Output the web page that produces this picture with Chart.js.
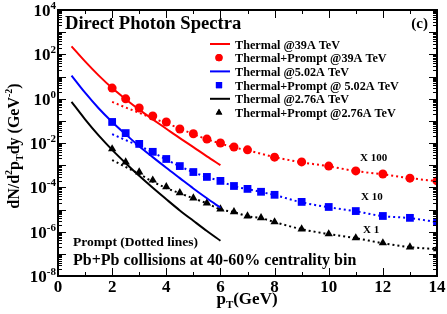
<!DOCTYPE html>
<html>
<head>
<meta charset="utf-8">
<script src="https://cdn.jsdelivr.net/npm/chart.js@4.4.1/dist/chart.umd.min.js"></script>
<style>
  html, body { margin: 0; padding: 0; background: #fff; }
  #wrap { width: 447px; height: 314px; position: relative; }
</style>
</head>
<body>
<div id="wrap"><canvas id="photonChart"></canvas></div>
<script>
// thermal curves (solid lines), pT in GeV
const thermalPt = [0.5, 1, 1.5, 2, 2.5, 3, 3.5, 4, 4.5, 5, 5.5, 6];
const thermal39 = [229, 48, 11.2, 3.0, 0.95, 0.32, 0.117, 0.044, 0.0166, 0.0065, 0.0025, 0.001];
const thermal502 = [11, 1.86, 0.37, 0.089, 0.0245, 0.0072, 0.0023, 7.6e-4, 2.6e-4, 8.9e-5, 3.2e-5, 1.2e-5];
const thermal276 = [0.72, 0.117, 0.022, 0.0049, 1.23e-3, 3.3e-4, 9.5e-5, 2.9e-5, 9.1e-6, 3.1e-6, 1.07e-6, 3.9e-7];

// thermal + prompt (markers)
const pt39 = [2, 2.5, 3, 3.5, 4, 4.5, 5, 5.5, 6, 6.5, 7, 8, 9, 10, 11, 12, 13, 14];
const total39 = [3.0, 0.98, 0.38, 0.166, 0.089, 0.043, 0.026, 0.015, 0.010, 0.0066, 0.0049, 0.0023, 0.0014, 9.1e-4, 5.5e-4, 4.0e-4, 2.6e-4, 1.95e-4];
const pt502 = [2, 2.5, 3, 3.5, 4, 4.5, 5, 5.5, 6, 6.5, 7, 7.5, 8, 9, 10, 11, 12, 13, 14];
const total502 = [0.089, 0.028, 0.0091, 0.004, 0.0019, 9.1e-4, 4.9e-4, 2.95e-4, 1.95e-4, 1.15e-4, 8.5e-5, 6.3e-5, 4.6e-5, 2.2e-5, 1.3e-5, 8.5e-6, 5.1e-6, 4.2e-6, 2.75e-6];
const pt276 = pt502;
const total276 = [5.4e-3, 1.38e-3, 4.9e-4, 2.1e-4, 1.05e-4, 5.6e-5, 3.3e-5, 1.95e-5, 1.05e-5, 7.8e-6, 5.1e-6, 4.2e-6, 2.75e-6, 1.3e-6, 7.9e-7, 5.2e-7, 3.1e-7, 2.0e-7, 1.66e-7];

// prompt only (dotted lines)
const prompt39 = [0.72, 0.40, 0.23, 0.13, 0.079, 0.045, 0.025, 0.0148, 0.0095, 0.0063, 0.0047, 0.0023, 0.00135, 8.9e-4, 5.4e-4, 3.9e-4, 2.6e-4, 1.9e-4];
const prompt502 = [0.025, 0.0135, 0.0074, 0.0038, 0.0018, 8.9e-4, 4.8e-4, 2.9e-4, 1.9e-4, 1.12e-4, 8.3e-5, 6.2e-5, 4.5e-5, 2.1e-5, 1.26e-5, 8.3e-6, 5.0e-6, 4.1e-6, 2.7e-6];
const prompt276 = [1.7e-3, 8.3e-4, 4.0e-4, 1.8e-4, 9.3e-5, 5.4e-5, 3.2e-5, 1.9e-5, 1.02e-5, 7.6e-6, 5.0e-6, 4.1e-6, 2.7e-6, 1.29e-6, 7.8e-7, 5.1e-7, 3.0e-7, 2.0e-7, 1.62e-7];

const xTicks = [0, 2, 4, 6, 8, 10, 12, 14];
const yExponents = [4, 2, 0, -2, -4, -6, -8];
const scaleLabels = ['X 100', 'X 10', 'X 1'];

const RED = 'rgb(255,0,0)';
const BLUE = 'rgb(0,0,255)';
const BLACK = 'rgb(0,0,0)';
const SERIF = '"Liberation Serif", "Times New Roman", serif';

const pairs = (xs, ys) => xs.map((x, i) => ({x: x, y: ys[i]}));

const lineSet = (label, xs, ys, color) => ({
    label: label, data: pairs(xs, ys), borderColor: color, backgroundColor: color,
    borderWidth: 2, pointRadius: 0, showLine: true, cubicInterpolationMode: 'monotone', inLegend: true
});
const dotSet = (label, xs, ys, color, style, r) => ({
    label: label, data: pairs(xs, ys), borderColor: color, backgroundColor: color,
    pointStyle: style, pointRadius: r, pointHoverRadius: r, borderWidth: 0, showLine: false, inLegend: true
});
const promptSet = (xs, ys, color) => ({
    label: 'Prompt', data: pairs(xs, ys), borderColor: color, borderWidth: 2,
    borderDash: [2, 3], pointRadius: 0, showLine: true, cubicInterpolationMode: 'monotone', inLegend: false
});

// draws text with super/subscript pieces: [text, size, dy]
const richText = (ctx, parts, x, y, align) => {
    let total = 0;
    parts.forEach(p => { ctx.font = 'bold ' + p[1] + 'px ' + SERIF; total += ctx.measureText(p[0]).width; });
    let cx = align === 'center' ? x - total / 2 : (align === 'right' ? x - total : x);
    ctx.textAlign = 'left';
    ctx.textBaseline = 'alphabetic';
    parts.forEach(p => {
        ctx.font = 'bold ' + p[1] + 'px ' + SERIF;
        ctx.fillText(p[0], cx, y + p[2]);
        cx += ctx.measureText(p[0]).width;
    });
};

const decorPlugin = {
    id: 'decor',
    afterDraw: (chart) => {
        const ctx = chart.ctx;
        const a = chart.chartArea;
        const xs = chart.scales.x, ys = chart.scales.y;
        ctx.save();
        ctx.fillStyle = '#000';
        ctx.strokeStyle = '#000';

        // tick marks, pointing inwards on all four sides
        ctx.lineWidth = 1;
        ctx.beginPath();
        for (let e = -8; e <= 4; e++) {
            for (let k = 1; k <= 9; k++) {
                const v = k * Math.pow(10, e);
                if (v > 1e4) break;
                const py = Math.round(ys.getPixelForValue(v)) + 0.5;
                const len = k === 1 ? 8 : 4;
                ctx.moveTo(a.left, py); ctx.lineTo(a.left + len, py);
                ctx.moveTo(a.right, py); ctx.lineTo(a.right - len, py);
            }
        }
        for (let t = 0; t <= 14; t++) {
            const px = Math.round(xs.getPixelForValue(t)) + 0.5;
            const len = t % 2 === 0 ? 8 : 4;
            ctx.moveTo(px, a.bottom); ctx.lineTo(px, a.bottom - len);
            ctx.moveTo(px, a.top); ctx.lineTo(px, a.top + len);
        }
        ctx.stroke();

        ctx.lineWidth = 2;
        ctx.strokeRect(a.left, a.top, a.right - a.left, a.bottom - a.top);

        // y tick labels 10^n
        yExponents.forEach(e => {
            const py = ys.getPixelForValue(Math.pow(10, e));
            const parts = [['10', 17, 0], [String(e), 11, -7]];
            richText(ctx, parts, 56, py + 6, 'right');
        });

        // axis titles
        richText(ctx, [['p', 17, 0], ['T', 11, 4], ['(GeV)', 17, 0]], 247, 304, 'center');
        ctx.save();
        ctx.translate(19, 146);
        ctx.rotate(-Math.PI / 2);
        richText(ctx, [['dN/d', 16, 0], ['2', 10, -7], ['p', 16, 0], ['T', 10, 4], ['dy (GeV', 16, 0], ['-2', 10, -7], [')', 16, 0]], 0, 0, 'center');
        ctx.restore();

        // title and panel tag
        richText(ctx, [['Direct Photon Spectra', 18.6, 0]], 65, 29, 'left');
        richText(ctx, [['(c)', 15, 0]], 428, 28, 'right');

        // legend
        const items = chart.data.datasets.filter(d => d.inLegend);
        items.forEach((d, i) => {
            const cy = 44 + i * 13.7;
            ctx.fillStyle = d.borderColor;
            ctx.strokeStyle = d.borderColor;
            if (d.showLine) {
                ctx.lineWidth = 2;
                ctx.beginPath(); ctx.moveTo(210, cy); ctx.lineTo(230, cy); ctx.stroke();
            } else {
                Chart.helpers.drawPoint(ctx, {pointStyle: d.pointStyle, radius: d.pointRadius * 0.8, borderWidth: 0}, 219, cy);
                ctx.fill();
            }
            ctx.fillStyle = '#000';
            richText(ctx, [[d.label, 12.2, 0]], 235, cy + 4.5, 'left');
        });

        // scale factors and notes
        ctx.fillStyle = '#000';
        richText(ctx, [[scaleLabels[0], 11, 0]], 360, 161, 'left');
        richText(ctx, [[scaleLabels[1], 11, 0]], 361, 200, 'left');
        richText(ctx, [[scaleLabels[2], 11, 0]], 363, 233, 'left');
        richText(ctx, [['Prompt (Dotted lines)', 13.5, 0]], 73, 246, 'left');
        richText(ctx, [['Pb+Pb collisions at 40-60% centrality bin', 16, 0]], 73, 265, 'left');
        ctx.restore();
    }
};

const drawChart = () => {
    const ctx = document.getElementById('photonChart').getContext('2d');
    new Chart(ctx, {
        type: 'scatter',
        data: {
            datasets: [
                promptSet(pt39, prompt39, RED),
                promptSet(pt502, prompt502, BLUE),
                promptSet(pt276, prompt276, BLACK),
                lineSet('Thermal @39A TeV', thermalPt, thermal39, RED),
                dotSet('Thermal+Prompt @39A TeV', pt39, total39, RED, 'circle', 4.5),
                lineSet('Thermal @5.02A TeV', thermalPt, thermal502, BLUE),
                dotSet('Thermal+Prompt @ 5.02A TeV', pt502, total502, BLUE, 'rect', 5.5),
                lineSet('Thermal @2.76A TeV', thermalPt, thermal276, BLACK),
                dotSet('Thermal+Prompt @2.76A TeV', pt276, total276, BLACK, 'triangle', 4.8)
            ]
        },
        options: {
            responsive: true,
            maintainAspectRatio: false,
            animation: false,
            layout: { padding: { top: 10, right: 10, left: 0, bottom: 0 } },
            plugins: { legend: { display: false }, tooltip: { enabled: false } },
            scales: {
                x: {
                    type: 'linear', min: 0, max: 14,
                    afterBuildTicks: (s) => { s.ticks = xTicks.map(v => ({value: v})); },
                    ticks: { autoSkip: false, color: '#000', padding: 1, font: { family: SERIF, weight: 'bold', size: 17 } },
                    grid: { display: false, drawTicks: false },
                    border: { display: false },
                    afterFit: (s) => { s.height = 38; }
                },
                y: {
                    type: 'logarithmic', min: 1e-8, max: 1e4,
                    ticks: { display: false },
                    grid: { display: false, drawTicks: false },
                    border: { display: false },
                    afterFit: (s) => { s.width = 58; }
                }
            }
        },
        plugins: [decorPlugin]
    });
}

drawChart();
</script>
</body>
</html>
